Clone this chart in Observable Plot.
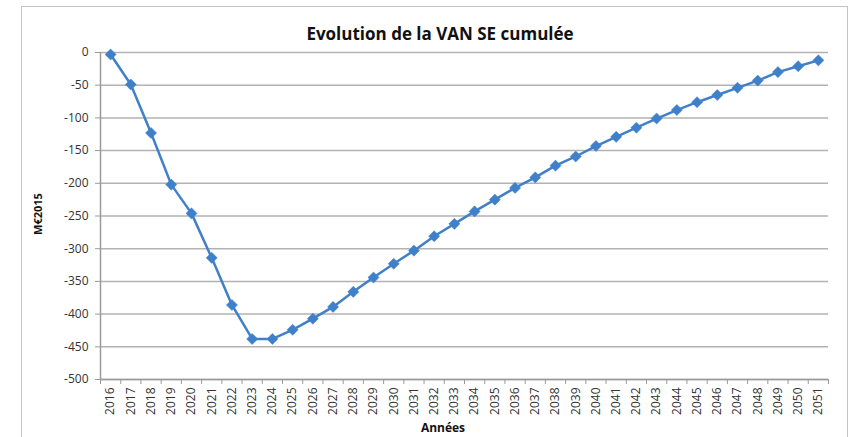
<!DOCTYPE html>
<html>
<head>
<meta charset="utf-8">
<script src="https://cdn.jsdelivr.net/npm/d3@7"></script>
<script src="https://cdn.jsdelivr.net/npm/@observablehq/plot@0.6"></script>
<style>
  html, body { margin: 0; padding: 0; background: #fff; }
  #wrap { position: relative; width: 857px; height: 437px; overflow: hidden; font-family: "Open Sans", "Liberation Sans", sans-serif; }
  #border { position: absolute; left: 21px; top: 6px; width: 827px; height: 450px; border: 1px solid #c4c4c4; box-sizing: border-box; }
  #chart { position: absolute; left: 0; top: 0; }
  .title { position: absolute; left: 0; width: 880px; top: 22px; text-align: center; font-weight: bold; font-size: 17px; color: #111; }
  .ylab { position: absolute; left: 37px; top: 214px; transform: translate(-50%, -50%) rotate(-90deg); font-weight: bold; font-size: 11px; color: #111; white-space: nowrap; }
  .xlab { position: absolute; left: 0; width: 886px; top: 420px; text-align: center; font-weight: bold; font-size: 12px; line-height: 15px; color: #111; }
</style>
</head>
<body>
<div id="wrap">
  <div id="border"></div>
  <div id="chart"></div>
  <div class="title">Evolution de la VAN SE cumulée</div>
  <div class="ylab">M€2015</div>
  <div class="xlab">Années</div>
</div>
<script>
const years = d3.range(2016, 2052);
const values = [
  -3, -49, -123, -202, -246, -314, -386, -438, -438, -424,
  -407, -389, -366, -344, -323, -303, -281, -262, -243, -225,
  -207, -191, -173, -159, -143, -129, -115, -101, -88, -76,
  -65, -54, -43, -30, -21, -12
];
const yTicks = d3.range(-500, 1, 50);

const data = years.map((year, i) => ({year, value: values[i]}));
const xDomain = [years[0] - 0.5, years[years.length - 1] + 0.5];
const xBounds = d3.range(xDomain[0], xDomain[1] + 0.01, 1);
const blue = "#3f80c9";
const axisGray = "#9a9a9a";

const chart = Plot.plot({
  width: 857,
  height: 437,
  marginLeft: 100,
  marginRight: 29,
  marginTop: 52,
  marginBottom: 58,
  style: { fontFamily: "'Open Sans', 'Liberation Sans', sans-serif", background: "transparent" },
  x: { domain: xDomain },
  y: { domain: [-500, 0] },
  marks: [
    Plot.ruleY(yTicks, { stroke: "#b2b2b2", strokeWidth: 1.5 }),
    Plot.ruleX([xDomain[0]], { stroke: axisGray, strokeWidth: 1.5 }),
    Plot.ruleY([-500], { stroke: axisGray, strokeWidth: 1.5 }),
    Plot.axisY({ ticks: yTicks, tickSize: 5, tickPadding: 7, stroke: axisGray, color: "#333", fontSize: 12, label: null, tickFormat: d => String(d) }),
    Plot.axisX({ ticks: xBounds, tickSize: 5, stroke: axisGray, tickFormat: () => "", label: null }),
    Plot.axisX({ ticks: years, tickSize: 0, tickPadding: 8, tickRotate: -90, color: "#333", fontSize: 12, label: null, tickFormat: d => String(d) }),
    Plot.line(data, { x: "year", y: "value", stroke: blue, strokeWidth: 2.5 }),
    Plot.dot(data, { x: "year", y: "value", symbol: "diamond2", r: 5, fill: blue, stroke: blue, strokeWidth: 0.5 })
  ]
});
document.getElementById("chart").appendChild(chart);
</script>
</body>
</html>
